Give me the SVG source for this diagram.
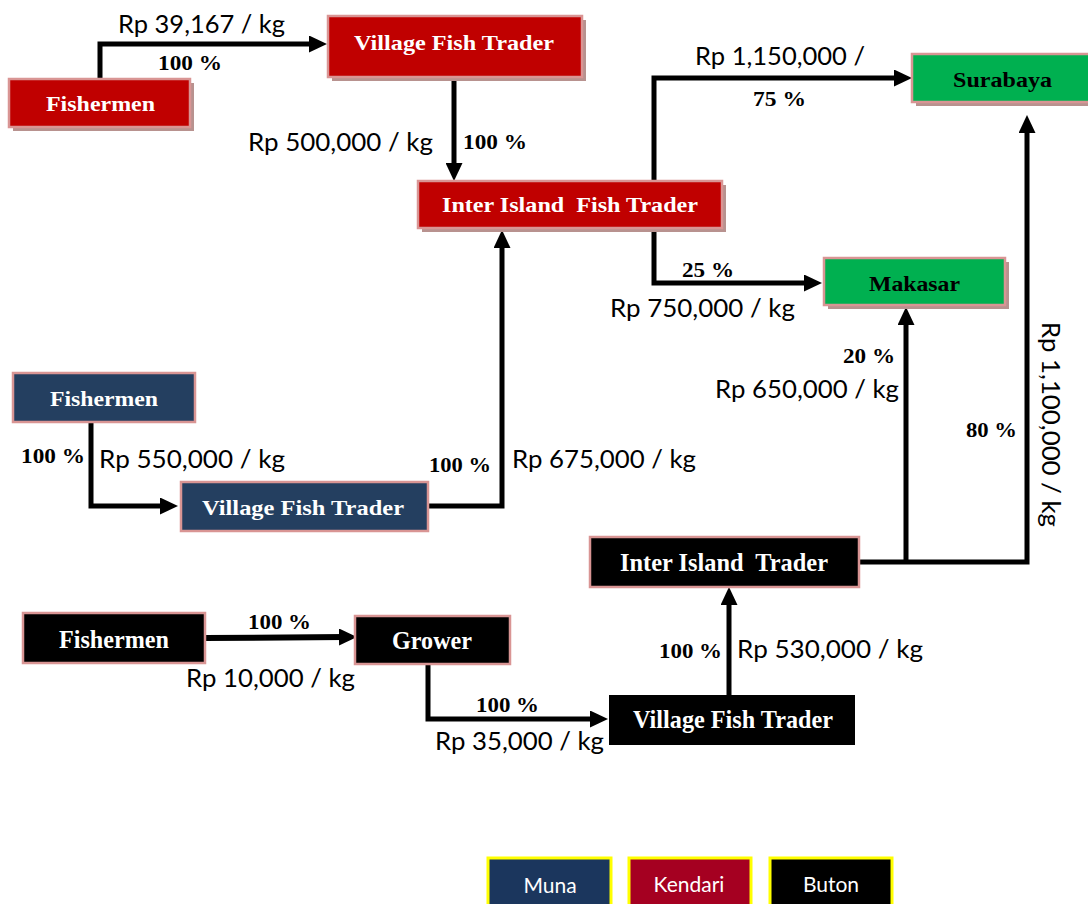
<svg xmlns="http://www.w3.org/2000/svg" width="1088" height="904" viewBox="0 0 1088 904">
  <style>
    .shadow { fill: #b8928f; }
    .box { stroke: #d99594; stroke-width: 2.5; }
    .kendari { fill: #c00000; }
    .muna { fill: #243f60; }
    .buton { fill: #000000; }
    .city { fill: #00b050; }
    .lbl { font-family: "Liberation Serif", "Times New Roman", serif; font-weight: bold; font-size: 22px; fill: #ffffff; }
    .lbl.tall { font-size: 25px; }
    .lbl.dark { fill: #000000; }
    .pct { font-family: "Liberation Serif", "Times New Roman", serif; font-weight: bold; font-size: 22px; fill: #000000; }
    .price { font-family: Lato, "Liberation Sans", sans-serif; font-size: 25px; fill: #000000; }
    .flow { fill: none; stroke: #000000; stroke-width: 5; stroke-linejoin: miter; marker-end: url(#head); }
    .legend { stroke: #ffff00; stroke-width: 3; }
    .legend-text { font-family: Lato, "Liberation Sans", sans-serif; font-size: 21px; fill: #ffffff; text-anchor: middle; }
  </style>
  <defs>
    <marker id="head" markerUnits="userSpaceOnUse" markerWidth="18" markerHeight="17" refX="6" refY="8.5" orient="auto">
      <path d="M0,0 L18,8.5 L0,17 z" fill="#000000"/>
    </marker>
  </defs>

  <rect width="1088" height="904" fill="#ffffff"/>

  <!-- connectors -->
  <g id="connectors">
    <polyline class="flow" points="100,79 100,44 315,44"/>
    <polyline class="flow" points="454,77 454,169"/>
    <polyline class="flow" points="654,181 654,78 900,78"/>
    <polyline class="flow" points="654,229 654,283 810,283"/>
    <polyline class="flow" points="91,422 91,506 166,506"/>
    <polyline class="flow" points="428,506 502,506 502,242"/>
    <polyline class="flow" style="stroke-width:6" points="205,638 345,637"/>
    <polyline class="flow" points="428,664 428,719 596,719"/>
    <polyline class="flow" points="729,695 729,599"/>
    <polyline class="flow" points="859,562 1027,562 1027,127"/>
    <polyline class="flow" points="906,562 906,319"/>
  </g>

  <!-- Kendari chain -->
  <g id="k-fishermen">
    <rect class="shadow" x="13" y="83" width="181" height="48"/>
    <rect class="box kendari" x="9" y="79" width="181" height="48"/>
    <text class="lbl" x="46" y="111" textLength="109" lengthAdjust="spacingAndGlyphs">Fishermen</text>
  </g>
  <g id="k-village">
    <rect class="shadow" x="332" y="20" width="254" height="61"/>
    <rect class="box kendari" x="328" y="16" width="254" height="61"/>
    <text class="lbl" x="354" y="50" textLength="200" lengthAdjust="spacingAndGlyphs">Village Fish Trader</text>
  </g>
  <g id="k-interisland">
    <rect class="shadow" x="422" y="185" width="304" height="47"/>
    <rect class="box kendari" x="418" y="181" width="304" height="47"/>
    <text class="lbl" x="442" y="212" textLength="256" lengthAdjust="spacingAndGlyphs" xml:space="preserve">Inter Island  Fish Trader</text>
  </g>

  <!-- Destinations -->
  <g id="surabaya">
    <rect class="shadow" x="916" y="58" width="180" height="48"/>
    <rect class="box city" x="912" y="54" width="180" height="48"/>
    <text class="lbl dark" x="953" y="87" textLength="99" lengthAdjust="spacingAndGlyphs">Surabaya</text>
  </g>
  <g id="makasar">
    <rect class="shadow" x="828" y="262" width="181" height="47"/>
    <rect class="box city" x="824" y="258" width="181" height="47"/>
    <text class="lbl dark" x="869" y="291" textLength="91" lengthAdjust="spacingAndGlyphs">Makasar</text>
  </g>

  <!-- Muna chain -->
  <g id="m-fishermen">
    <rect class="box muna" x="13" y="373" width="182" height="49"/>
    <text class="lbl" x="50" y="406" textLength="108" lengthAdjust="spacingAndGlyphs">Fishermen</text>
  </g>
  <g id="m-village">
    <rect class="box muna" x="181" y="482" width="247" height="49"/>
    <text class="lbl" x="202" y="515" textLength="202" lengthAdjust="spacingAndGlyphs">Village Fish Trader</text>
  </g>

  <!-- Buton chain -->
  <g id="b-fishermen">
    <rect class="box buton" x="23" y="613" width="182" height="50"/>
    <text class="lbl tall" x="59" y="648" textLength="110" lengthAdjust="spacingAndGlyphs">Fishermen</text>
  </g>
  <g id="b-grower">
    <rect class="box buton" x="355" y="616" width="155" height="48"/>
    <text class="lbl tall" x="392" y="649" textLength="80" lengthAdjust="spacingAndGlyphs">Grower</text>
  </g>
  <g id="b-village">
    <rect class="buton" x="609" y="695" width="246" height="50"/>
    <text class="lbl tall" x="633" y="728" textLength="200" lengthAdjust="spacingAndGlyphs">Village Fish Trader</text>
  </g>
  <g id="b-interisland">
    <rect class="box buton" x="590" y="537" width="269" height="50"/>
    <text class="lbl tall" x="620" y="571" textLength="208" lengthAdjust="spacingAndGlyphs" xml:space="preserve">Inter Island  Trader</text>
  </g>

  <!-- flow labels -->
  <g id="labels">
    <text class="price" x="118" y="33" textLength="167" lengthAdjust="spacingAndGlyphs">Rp 39,167 / kg</text>
    <text class="pct" x="158" y="70" textLength="64" lengthAdjust="spacingAndGlyphs">100 %</text>
    <text class="price" x="248" y="151" textLength="185" lengthAdjust="spacingAndGlyphs">Rp 500,000 / kg</text>
    <text class="pct" x="463" y="149" textLength="64" lengthAdjust="spacingAndGlyphs">100 %</text>
    <text class="price" x="695" y="65" textLength="170" lengthAdjust="spacingAndGlyphs">Rp 1,150,000 /</text>
    <text class="pct" x="753" y="106" textLength="53" lengthAdjust="spacingAndGlyphs">75 %</text>
    <text class="pct" x="682" y="277" textLength="52" lengthAdjust="spacingAndGlyphs">25 %</text>
    <text class="price" x="610" y="317" textLength="185" lengthAdjust="spacingAndGlyphs">Rp 750,000 / kg</text>
    <text class="pct" x="843" y="363" textLength="52" lengthAdjust="spacingAndGlyphs">20 %</text>
    <text class="price" x="715" y="398" textLength="184" lengthAdjust="spacingAndGlyphs">Rp 650,000 / kg</text>
    <text class="pct" x="966" y="437" textLength="51" lengthAdjust="spacingAndGlyphs">80 %</text>
    <text class="price" transform="translate(1042,322) rotate(90)" x="0" y="0" textLength="205" lengthAdjust="spacingAndGlyphs">Rp 1,100,000 / kg</text>
    <text class="pct" x="21" y="463" textLength="64" lengthAdjust="spacingAndGlyphs">100 %</text>
    <text class="price" x="99" y="468" textLength="186" lengthAdjust="spacingAndGlyphs">Rp 550,000 / kg</text>
    <text class="pct" x="429" y="472" textLength="62" lengthAdjust="spacingAndGlyphs">100 %</text>
    <text class="price" x="512" y="468" textLength="184" lengthAdjust="spacingAndGlyphs">Rp 675,000 / kg</text>
    <text class="pct" x="248" y="629" textLength="63" lengthAdjust="spacingAndGlyphs">100 %</text>
    <text class="price" x="186" y="687" textLength="169" lengthAdjust="spacingAndGlyphs">Rp 10,000 / kg</text>
    <text class="pct" x="476" y="712" textLength="63" lengthAdjust="spacingAndGlyphs">100 %</text>
    <text class="price" x="435" y="750" textLength="169" lengthAdjust="spacingAndGlyphs">Rp 35,000 / kg</text>
    <text class="pct" x="659" y="658" textLength="63" lengthAdjust="spacingAndGlyphs">100 %</text>
    <text class="price" x="737" y="658" textLength="186" lengthAdjust="spacingAndGlyphs">Rp 530,000 / kg</text>
  </g>

  <!-- legend -->
  <g id="legend-muna">
    <rect class="legend" x="488" y="858" width="123" height="56" fill="#1b365d"/>
    <text class="legend-text" x="550" y="893">Muna</text>
  </g>
  <g id="legend-kendari">
    <rect class="legend" x="629" y="858" width="122" height="56" fill="#a50021"/>
    <text class="legend-text" x="689" y="892">Kendari</text>
  </g>
  <g id="legend-buton">
    <rect class="legend" x="770" y="858" width="122" height="56" fill="#000000"/>
    <text class="legend-text" x="831" y="892">Buton</text>
  </g>
</svg>
